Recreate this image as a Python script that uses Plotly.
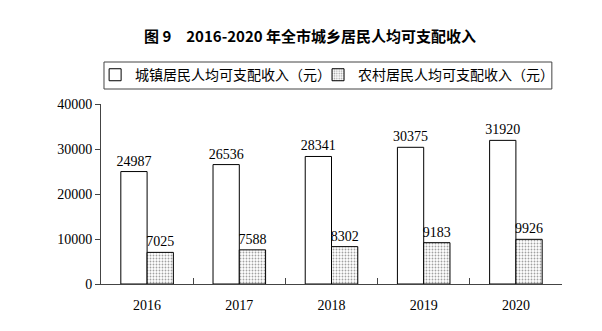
import plotly.graph_objects as go

years = ["2016", "2017", "2018", "2019", "2020"]
urban_income = [24987, 26536, 28341, 30375, 31920]
rural_income = [7025, 7588, 8302, 9183, 9926]
urban_name = "城镇居民人均可支配收入（元）"
rural_name = "农村居民人均可支配收入（元）"
title_text = "图 9　2016-2020 年全市城乡居民人均可支配收入"

num_font = dict(family="Liberation Serif, Times New Roman, serif", size=14, color="black")
cjk_font = dict(family="Noto Sans CJK SC, sans-serif", size=14, color="black")

fig = go.Figure()
fig.add_trace(go.Bar(
    x=years, y=urban_income, name=urban_name, legend="legend",
    marker=dict(color="white", line=dict(color="black", width=1)),
    text=[str(v) for v in urban_income], textposition="outside",
    textfont=num_font, cliponaxis=False, constraintext="none", textangle=0,
))
fig.add_trace(go.Bar(
    x=years, y=rural_income, name=rural_name, legend="legend2",
    marker=dict(color="white", line=dict(color="black", width=1),
                pattern=dict(shape=".", size=3, solidity=0.3,
                             fgcolor="#444", bgcolor="white")),
    text=[str(v) for v in rural_income], textposition="outside",
    textfont=num_font, cliponaxis=False, constraintext="none", textangle=0,
))

legend_common = dict(orientation="h", xref="container", xanchor="left",
                     yref="container", y=0.773, yanchor="middle",
                     bgcolor="rgba(0,0,0,0)", borderwidth=0, font=cjk_font,
                     itemwidth=30)

fig.update_layout(
    width=602, height=331,
    margin=dict(l=101, r=40, t=104, b=47, autoexpand=False),
    paper_bgcolor="white", plot_bgcolor="white",
    barmode="group", bargap=0.43, bargroupgap=0,
    title=dict(text="<b>" + title_text + "</b>", x=0.515, xanchor="center",
               y=0.888, yanchor="middle",
               font=dict(family="Noto Sans CJK SC, sans-serif", size=15, color="black")),
    legend=dict(legend_common, x=0.158),
    legend2=dict(legend_common, x=0.5283),
    showlegend=True,
    # frame around both legend entries
    shapes=[dict(type="rect", xref="paper", yref="paper",
                 x0=0.0065, x1=0.978, y0=1.0833, y1=1.2333,
                 line=dict(color="#444", width=1), fillcolor="rgba(0,0,0,0)",
                 layer="below")],
)
fig.update_xaxes(
    showline=True, linecolor="#444", linewidth=1,
    ticks="inside", tickson="boundaries", ticklen=6, tickcolor="#444",
    tickfont=num_font, ticklabelstandoff=8, showgrid=False,
)
fig.update_yaxes(
    range=[0, 40000], dtick=10000, tickformat="d", showline=True,
    linecolor="#444", linewidth=1,
    ticks="outside", ticklen=5, tickcolor="#444", tickfont=num_font,
    showgrid=False, zeroline=False,
)

fig.write_html("out.html")
